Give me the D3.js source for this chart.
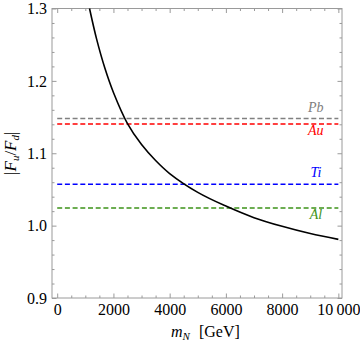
<!DOCTYPE html>
<html>
<head>
<meta charset="utf-8">
<script src="https://cdn.jsdelivr.net/npm/d3@7"></script>
<style>
    body { margin: 0; background: #fff; }
    svg text { font-family: "Liberation Serif", "Times New Roman", serif; }
</style>
</head>
<body>
<div id="chart"></div>
<script>
// curve |F_u/F_d| vs m_N
const massPoints = [1150, 1400, 1700, 2000, 2500, 3000, 3500, 4000, 5000, 6000, 7000, 8000, 9000, 10000];
const ratioPoints = [1.300, 1.258, 1.217, 1.184, 1.141, 1.112, 1.090, 1.072, 1.046, 1.027, 1.011, 0.999, 0.989, 0.981];

// horizontal reference lines for the nuclei
const nuclei = ["Pb", "Au", "Ti", "Al"];
const nucleusRatio = [1.148, 1.1405, 1.057, 1.0244];
const nucleusColor = ["#808080", "#ff0000", "#0000ff", "#3d9318"];
const labelAbove = [true, false, true, false];

const xTicks = [0, 2000, 4000, 6000, 8000, 10000];
const xTickLabels = ["0", "2000", "4000", "6000", "8000", "10\u2009000"];
const yTicks = [0.9, 1.0, 1.1, 1.2, 1.3];
const yTickLabels = ["0.9", "1.0", "1.1", "1.2", "1.3"];

const width = 360, height = 345;
const margin = {left: 52, right: 342, top: 8.5, bottom: 298};

const svg = d3.select("#chart").append("svg")
    .attr("width", width)
    .attr("height", height);

const x = d3.scaleLinear().domain([-185, 10130]).range([margin.left, margin.right]);
const y = d3.scaleLinear().domain([0.9, 1.3]).range([margin.bottom, margin.top]);

const frameColor = "#9a9a9a";

// minor + major ticks on all four sides, pointing inward
const xMinor = d3.range(0, 10001, 500).filter(v => v % 2000 !== 0);
const yMinor = d3.range(0, 21).map(i => 0.9 + i * 0.02).filter(v => Math.abs(v * 10 - Math.round(v * 10)) > 1e-6);

function sideTicks(axis, pos, vals, size, fmt, pad) {
    const g = svg.append("g")
        .attr("transform", pos)
        .call(axis.tickValues(vals).tickSize(size).tickPadding(pad || 3).tickFormat(fmt || ""));
    g.select(".domain").remove();
    return g;
}

sideTicks(d3.axisBottom(x), "translate(0," + margin.bottom + ")", xMinor, -2.5);
sideTicks(d3.axisBottom(x), "translate(0," + margin.bottom + ")", xTicks, -4.5, (d, i) => xTickLabels[i], 6);
sideTicks(d3.axisTop(x), "translate(0," + margin.top + ")", xMinor, -2.5);
sideTicks(d3.axisTop(x), "translate(0," + margin.top + ")", xTicks, -4.5);
sideTicks(d3.axisLeft(y), "translate(" + margin.left + ",0)", yMinor, -2.5);
sideTicks(d3.axisLeft(y), "translate(" + margin.left + ",0)", yTicks, -4.5, (d, i) => yTickLabels[i], 5);
sideTicks(d3.axisRight(y), "translate(" + margin.right + ",0)", yMinor, -2.5);
sideTicks(d3.axisRight(y), "translate(" + margin.right + ",0)", yTicks, -4.5);

svg.selectAll(".tick line").attr("stroke", frameColor);
svg.selectAll(".tick text")
    .attr("font-family", "Liberation Serif")
    .attr("font-size", 16)
    .attr("fill", "#000");

svg.append("rect")
    .attr("x", margin.left).attr("y", margin.top)
    .attr("width", margin.right - margin.left).attr("height", margin.bottom - margin.top)
    .attr("fill", "none")
    .attr("stroke", frameColor)
    .attr("stroke-width", 1);

const plot = svg.append("g");

// dashed nucleus lines
nuclei.forEach((name, i) => {
    plot.append("line")
        .attr("x1", x(0)).attr("x2", x(10000))
        .attr("y1", y(nucleusRatio[i])).attr("y2", y(nucleusRatio[i]))
        .attr("stroke", nucleusColor[i])
        .attr("stroke-width", 1.5)
        .attr("stroke-dasharray", "5,2.7");
    plot.append("text")
        .attr("x", x(9200))
        .attr("y", y(nucleusRatio[i]) + (labelAbove[i] ? -7 : 11.5))
        .attr("text-anchor", "middle")
        .attr("font-style", "italic")
        .attr("font-size", 14)
        .attr("fill", nucleusColor[i])
        .text(name);
});

// the ratio curve
const curveData = massPoints.map((m, i) => [m, ratioPoints[i]]);
plot.append("path")
    .datum(curveData)
    .attr("fill", "none")
    .attr("stroke", "#000")
    .attr("stroke-width", 1.6)
    .attr("d", d3.line()
        .curve(d3.curveCatmullRom.alpha(0.5))
        .x(d => x(d[0]))
        .y(d => y(d[1])));

// axis titles
const xTitle = svg.append("text")
    .attr("x", 171)
    .attr("y", 337)
    .attr("font-size", 16);
xTitle.append("tspan").attr("font-style", "italic").text("m");
xTitle.append("tspan").attr("font-style", "italic").attr("font-size", 11).attr("dy", 3).text("N");
xTitle.append("tspan").attr("dy", -3).attr("dx", 9).text("[GeV]");

const yTitle = svg.append("text")
    .attr("transform", "translate(16," + ((margin.top + margin.bottom) / 2) + ") rotate(-90)")
    .attr("text-anchor", "middle")
    .attr("font-size", 17);
yTitle.append("tspan").text("|");
yTitle.append("tspan").attr("font-style", "italic").text("F");
yTitle.append("tspan").attr("font-style", "italic").attr("font-size", 11).attr("dy", 3).text("u");
yTitle.append("tspan").attr("dy", -3).text("/");
yTitle.append("tspan").attr("font-style", "italic").text("F");
yTitle.append("tspan").attr("font-style", "italic").attr("font-size", 11).attr("dy", 3).text("d");
yTitle.append("tspan").attr("dy", -3).text("|");
</script>
</body>
</html>
